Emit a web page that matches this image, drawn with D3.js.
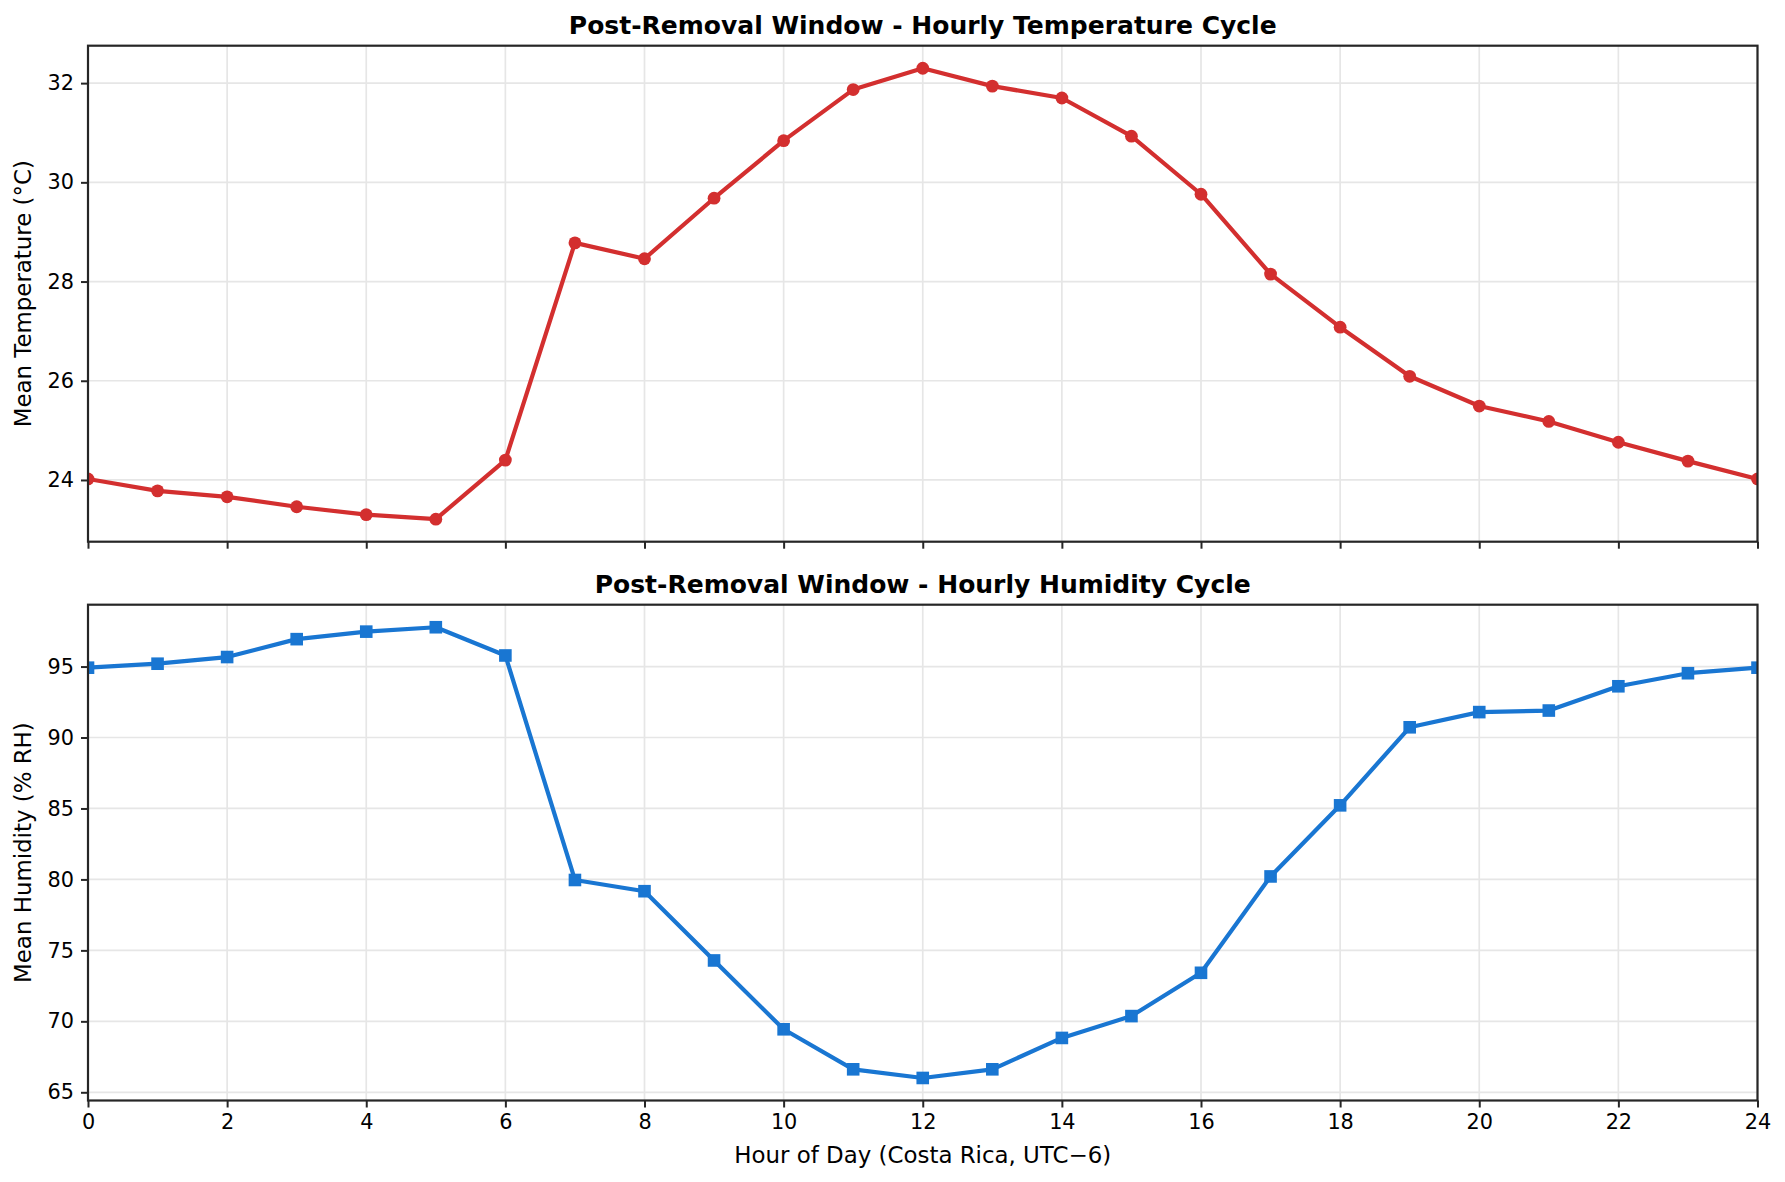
<!DOCTYPE html>
<html>
<head>
<meta charset="utf-8">
<script src="https://cdn.jsdelivr.net/npm/d3@7"></script>
<style>
  body { margin: 0; background: #fff; }
  svg { display: block; font-family: "DejaVu Sans", sans-serif; }
</style>
</head>
<body>
<div id="container"></div>
<script>
// Hourly means (hour 24 repeats hour 0)
var hours = [0, 1, 2, 3, 4, 5, 6, 7, 8, 9, 10, 11, 12, 13, 14, 15, 16, 17, 18, 19, 20, 21, 22, 23, 24];
var temperature = [24.02, 23.78, 23.66, 23.46, 23.30, 23.21, 24.40, 28.78, 28.46, 29.68, 30.84, 31.87,
    32.30, 31.94, 31.70, 30.93, 29.76, 28.15, 27.08, 26.09, 25.49, 25.18, 24.76, 24.38, 24.02];
var humidity = [94.92, 95.20, 95.67, 96.93, 97.46, 97.77, 95.78, 79.96, 79.17, 74.29, 69.44, 66.62,
    66.01, 66.62, 68.83, 70.37, 73.42, 80.21, 85.22, 90.72, 91.79, 91.90, 93.61, 94.53, 94.92];
var hourTicks = [0, 2, 4, 6, 8, 10, 12, 14, 16, 18, 20, 22, 24];
var tempTicks = [24, 26, 28, 30, 32];
var humidityTicks = [65, 70, 75, 80, 85, 90, 95];

var width = 1785,
    height = 1182,
    left = 88,
    right = 1757.5,
    tickFont = 20.8,
    labelFont = 22.9,
    titleFont = 25,
    spineColor = "#262626",
    gridColor = "#e6e6e6";

var svg = d3.select("#container")
    .append("svg")
    .attr("width", width)
    .attr("height", height);

var xScale = d3.scaleLinear()
    .domain([0, 24])
    .range([left, right]);

// matplotlib-style 5% margin around the data
function paddedDomain(values) {
    var lo = d3.min(values), hi = d3.max(values), m = (hi - lo) * 0.05;
    return [lo - m, hi + m];
}

function drawPanel(cfg) {
    var yScale = d3.scaleLinear()
        .domain(paddedDomain(cfg.values))
        .range([cfg.bottom, cfg.top]);

    var g = svg.append("g");

    g.append("clipPath")
        .attr("id", cfg.id + "-clip")
        .append("rect")
        .attr("x", left)
        .attr("y", cfg.top)
        .attr("width", right - left)
        .attr("height", cfg.bottom - cfg.top);

    // grid
    g.selectAll(".vgrid")
        .data(hourTicks)
        .enter()
        .append("line")
        .attr("x1", function (d) { return xScale(d); })
        .attr("x2", function (d) { return xScale(d); })
        .attr("y1", cfg.top)
        .attr("y2", cfg.bottom)
        .attr("stroke", gridColor)
        .attr("stroke-width", 1.7);

    g.selectAll(".hgrid")
        .data(cfg.ticks)
        .enter()
        .append("line")
        .attr("x1", left)
        .attr("x2", right)
        .attr("y1", function (d) { return yScale(d); })
        .attr("y2", function (d) { return yScale(d); })
        .attr("stroke", gridColor)
        .attr("stroke-width", 1.7);

    var line = d3.line()
        .x(function (d, i) { return xScale(hours[i]); })
        .y(function (d) { return yScale(d); });

    var plot = g.append("g").attr("clip-path", "url(#" + cfg.id + "-clip)");

    plot.append("path")
        .attr("d", line(cfg.values))
        .attr("fill", "none")
        .attr("stroke", cfg.color)
        .attr("stroke-width", 4.2)
        .attr("stroke-linejoin", "round");

    if (cfg.marker === "circle") {
        plot.selectAll("circle")
            .data(cfg.values)
            .enter()
            .append("circle")
            .attr("cx", function (d, i) { return xScale(hours[i]); })
            .attr("cy", function (d) { return yScale(d); })
            .attr("r", 6.4)
            .attr("fill", cfg.color);
    } else {
        var s = 12.6;
        plot.selectAll("rect")
            .data(cfg.values)
            .enter()
            .append("rect")
            .attr("x", function (d, i) { return xScale(hours[i]) - s / 2; })
            .attr("y", function (d) { return yScale(d) - s / 2; })
            .attr("width", s)
            .attr("height", s)
            .attr("fill", cfg.color);
    }

    // y axis
    var yAxis = g.append("g")
        .attr("transform", "translate(" + left + ",0)")
        .call(d3.axisLeft(yScale)
            .tickValues(cfg.ticks)
            .tickSize(7)
            .tickPadding(7)
            .tickFormat(d3.format("d")));

    // x axis (labels only on the lower panel)
    var xAxis = g.append("g")
        .attr("transform", "translate(0," + cfg.bottom + ")")
        .call(d3.axisBottom(xScale)
            .tickValues(hourTicks)
            .tickSize(7)
            .tickPadding(7)
            .tickFormat(cfg.xLabels ? d3.format("d") : function () { return ""; }));

    [yAxis, xAxis].forEach(function (ax) {
        ax.select(".domain").remove();
        ax.selectAll(".tick line")
            .attr("stroke", spineColor)
            .attr("stroke-width", 2);
        ax.selectAll(".tick text")
            .attr("fill", "#000")
            .style("font-size", tickFont + "px")
            .style("font-family", "DejaVu Sans");
    });

    // spines
    g.append("rect")
        .attr("x", left)
        .attr("y", cfg.top)
        .attr("width", right - left)
        .attr("height", cfg.bottom - cfg.top)
        .attr("fill", "none")
        .attr("stroke", spineColor)
        .attr("stroke-width", 2.2);

    g.append("text")
        .attr("x", (left + right) / 2)
        .attr("y", cfg.top - 11.5)
        .attr("text-anchor", "middle")
        .style("font-size", titleFont + "px")
        .style("font-weight", "bold")
        .text(cfg.title);

    g.append("text")
        .attr("transform", "translate(31," + ((cfg.top + cfg.bottom) / 2) + ") rotate(-90)")
        .attr("text-anchor", "middle")
        .style("font-size", labelFont + "px")
        .text(cfg.ylabel);
}

drawPanel({
    id: "temp",
    top: 45.7,
    bottom: 541.7,
    values: temperature,
    ticks: tempTicks,
    color: "#d32f2f",
    marker: "circle",
    xLabels: false,
    title: "Post-Removal Window - Hourly Temperature Cycle",
    ylabel: "Mean Temperature (°C)"
});

drawPanel({
    id: "hum",
    top: 604.7,
    bottom: 1100.5,
    values: humidity,
    ticks: humidityTicks,
    color: "#1976d2",
    marker: "square",
    xLabels: true,
    title: "Post-Removal Window - Hourly Humidity Cycle",
    ylabel: "Mean Humidity (% RH)"
});

svg.append("text")
    .attr("x", (left + right) / 2)
    .attr("y", 1163)
    .attr("text-anchor", "middle")
    .style("font-size", labelFont + "px")
    .text("Hour of Day (Costa Rica, UTC\u22126)");
</script>
</body>
</html>
